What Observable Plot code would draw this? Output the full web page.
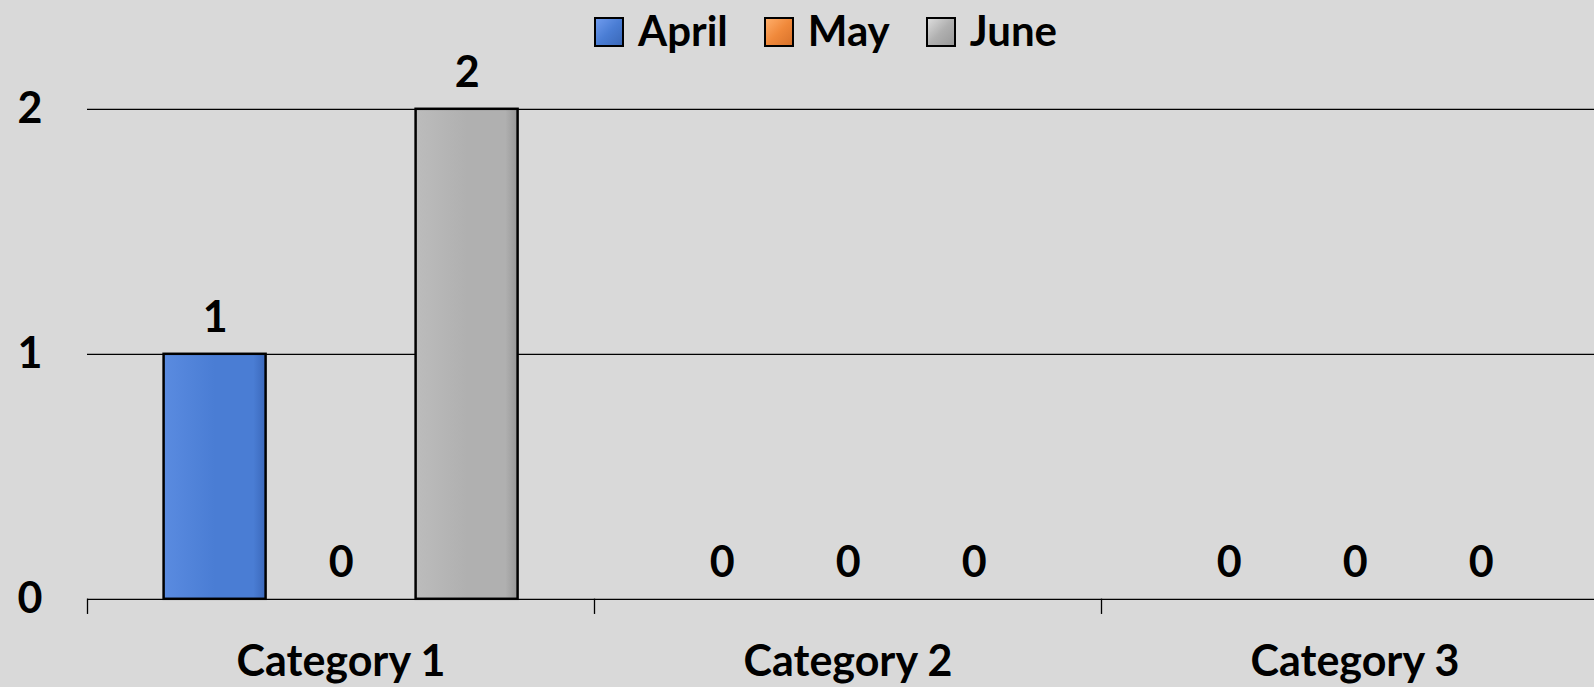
<!DOCTYPE html>
<html>
<head>
<meta charset="utf-8">
<script src="https://cdn.jsdelivr.net/npm/d3@7"></script>
<script src="https://cdn.jsdelivr.net/npm/@observablehq/plot@0.6"></script>
<style>
  html, body { margin: 0; padding: 0; background: #d9d9d9; overflow: hidden; width: 1594px; height: 687px; }
  #legend { position: relative; height: 46px; font-family: Lato, "Open Sans", sans-serif; font-weight: bold; font-size: 42px; color: #000; }
  #legend .items { position: absolute; left: 594px; top: 2px; display: flex; gap: 36px; align-items: center; height: 56px; }
  #legend .item { display: flex; align-items: center; gap: 14px; }
  #legend .sw { width: 26px; height: 26px; border: 2px solid #000; box-sizing: content-box; margin-top: 4px; }
  #legend .lbl { line-height: 1; }
  #chart { width: 1594px; overflow: hidden; }
  #chart svg { display: block; max-width: none !important; }
</style>
</head>
<body>
<div id="legend"><div class="items"></div></div>
<div id="chart"></div>
<script>
const categories = ["Category 1", "Category 2", "Category 3"];
const months = ["April", "May", "June"];
const april = [1, 0, 0];
const may = [0, 0, 0];
const june = [2, 0, 0];
const yTicks = [0, 1, 2];

const monthColors = ["#4a7dd4", "#f0893b", "#b0b0b0"];
const monthLight = ["#5a8be0", "#f8984a", "#bcbcbc"];
const monthDark = ["#3b68ba", "#d6722a", "#969696"];
const swatchGrad = [
  "linear-gradient(135deg, #6f9bee 0%, #4a7dd4 50%, #3a68b8 100%)",
  "linear-gradient(135deg, #ffae6a 0%, #f0893b 50%, #d8722a 100%)",
  "linear-gradient(135deg, #dcdcdc 0%, #b0b0b0 50%, #999999 100%)"
];

const series = [april, may, june];
const data = categories.flatMap((c, i) =>
  months.map((m, j) => ({ category: c, month: m, value: series[j][i] }))
);

// legend
const items = d3.select("#legend .items");
months.forEach((m, j) => {
  const it = items.append("div").attr("class", "item");
  it.append("div").attr("class", "sw").style("background", swatchGrad[j]);
  it.append("div").attr("class", "lbl").text(m);
});

const font = { fontFamily: "Lato, 'Open Sans', sans-serif", fontWeight: "bold", fontSize: "43px", background: "transparent", color: "#000", maxWidth: "none" };

const chart = Plot.plot({
  width: 1608,
  height: 641,
  marginLeft: 86.4,
  marginRight: 0,
  marginTop: 62.8,
  marginBottom: 88.2,
  style: font,
  fx: { domain: categories, padding: 0, label: null, axis: "bottom", tickSize: 0, tickPadding: 46 },
  x: { domain: months, paddingInner: 0.19, paddingOuter: 0.595, axis: null },
  y: { domain: [0, 2], ticks: yTicks, tickFormat: d3.format("d"), tickSize: 0, tickPadding: 45, label: null },
  color: { type: "identity" },
  marks: [
    Plot.ruleY(yTicks, { stroke: "#000", strokeWidth: 1.3 }),
    Plot.barY(data, { fx: "category", x: "month", y: "value", fill: d => `url(#bargrad-${months.indexOf(d.month)})`, stroke: "#000", strokeWidth: 2.5 }),
    Plot.text(data, { fx: "category", x: "month", y: "value", text: d => String(d.value), lineAnchor: "bottom", dy: -22, fill: "#000", fontSize: 43, fontWeight: "bold" }),
    Plot.frame({ anchor: "left", insetTop: 490, insetBottom: -14, stroke: "#000", strokeWidth: 1.3 })
  ]
});

// gradients for the bars' shading
const defs = d3.select(chart).insert("defs", ":first-child");
months.forEach((m, j) => {
  const g = defs.append("linearGradient").attr("id", `bargrad-${j}`).attr("x1", 0).attr("x2", 1).attr("y1", 0).attr("y2", 0);
  g.append("stop").attr("offset", "0%").attr("stop-color", monthLight[j]);
  g.append("stop").attr("offset", "50%").attr("stop-color", monthColors[j]);
  g.append("stop").attr("offset", "88%").attr("stop-color", monthColors[j]);
  g.append("stop").attr("offset", "100%").attr("stop-color", monthDark[j]);
});

document.getElementById("chart").appendChild(chart);
</script>
</body>
</html>
